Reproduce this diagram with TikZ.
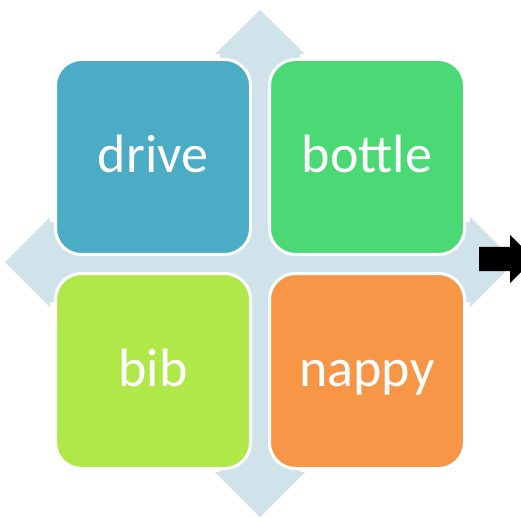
\documentclass[tikz,border=0pt]{standalone}
\usepackage{fontspec}
\setmainfont{Carlito}
\definecolor{crossblue}{HTML}{D0E2EA}
\definecolor{cdrive}{HTML}{4BACC6}
\definecolor{cbottle}{HTML}{4AD975}
\definecolor{cbib}{HTML}{B0E84A}
\definecolor{cnappy}{HTML}{F79646}
\tikzset{
  tile/.style={draw=white, line width=3pt, rounded corners=26pt, minimum width=195pt, minimum height=195pt,
    inner sep=0pt, text=white, font=\fontsize{54}{60}\selectfont, text height=40pt, text depth=9pt, anchor=center},
  crossshape/.style={fill=crossblue, draw=none},
  blockarrow/.style={fill=black, draw=none}
}
\begin{document}
\begin{tikzpicture}[x=1pt,y=-1pt]
\useasboundingbox (0,0) rectangle (521,518);
\clip (0,0) rectangle (521,518);
\fill[white] (0,0) rectangle (521,518);
% background cross of four arrows
\path[crossshape] (260,10) -- (305,54) -- (300,54) -- (300,222) -- (470,222) -- (470,217) -- (515,262)
  -- (470,307) -- (470,302) -- (300,302) -- (300,472) -- (305,472) -- (260,517) -- (215,472)
  -- (220,472) -- (220,302) -- (50,302) -- (50,307) -- (5,262) -- (50,217) -- (50,222)
  -- (220,222) -- (220,54) -- (215,54) -- cycle;
% tiles
\node[tile, fill=cdrive]  (drive)  at (153,157) {drive};
\node[tile, fill=cbottle] (bottle) at (367,157) {bottle};
\node[tile, fill=cbib]    (bib)    at (153,371) {bib};
\node[tile, fill=cnappy]  (nappy)  at (367,371) {nappy};
% black block arrow at right
\path[blockarrow] (479,247) -- (510,247) -- (510,235) -- (534,259) -- (510,283) -- (510,271) -- (479,271) -- cycle;
\end{tikzpicture}
\end{document}
